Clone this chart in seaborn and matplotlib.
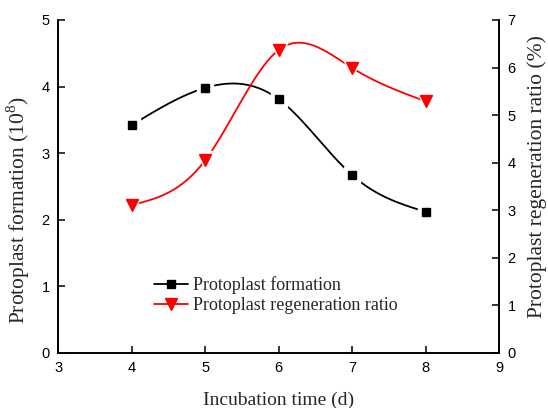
import numpy as np
import pandas as pd
import matplotlib
matplotlib.use("Agg")
import matplotlib.pyplot as plt
import seaborn as sns
from matplotlib.lines import Line2D

days = [4, 5, 6, 7, 8]
formation = [3.42, 3.98, 3.81, 2.67, 2.12]
regeneration = [3.11, 4.05, 6.37, 5.99, 5.29]

formation_label = "Protoplast formation"
regeneration_label = "Protoplast regeneration ratio"


def natural_spline(x, y, n=200):
    # natural cubic spline through the points, only for drawing the smooth curve
    x = np.asarray(x, float)
    y = np.asarray(y, float)
    k = len(x)
    h = np.diff(x)
    A = np.zeros((k, k))
    b = np.zeros(k)
    A[0, 0] = A[-1, -1] = 1.0
    for i in range(1, k - 1):
        A[i, i - 1] = h[i - 1]
        A[i, i] = 2 * (h[i - 1] + h[i])
        A[i, i + 1] = h[i]
        b[i] = 3 * ((y[i + 1] - y[i]) / h[i] - (y[i] - y[i - 1]) / h[i - 1])
    c = np.linalg.solve(A, b)
    xs = np.linspace(x[0], x[-1], n)
    ys = np.empty_like(xs)
    for j, xv in enumerate(xs):
        i = min(np.searchsorted(x, xv, side="right") - 1, k - 2)
        d = xv - x[i]
        bi = (y[i + 1] - y[i]) / h[i] - h[i] * (2 * c[i] + c[i + 1]) / 3
        di = (c[i + 1] - c[i]) / (3 * h[i])
        ys[j] = y[i] + bi * d + c[i] * d ** 2 + di * d ** 3
    return xs, ys


sns.set_theme(style="ticks")
plt.rcParams["font.family"] = ["Liberation Sans", "DejaVu Sans"]
plt.rcParams["xtick.direction"] = "in"
plt.rcParams["ytick.direction"] = "in"
plt.rcParams["mathtext.fontset"] = "custom"
plt.rcParams["mathtext.rm"] = "Liberation Serif"

fig = plt.figure(figsize=(5.48, 4.08), dpi=100)
ax = fig.add_axes([0.106, 0.135, 0.805, 0.816])
ax2 = ax.twinx()

fx, fy = natural_spline(days, formation)
rx, ry = natural_spline(days, regeneration)
curve_f = pd.DataFrame({"day": fx, "value": fy})
curve_r = pd.DataFrame({"day": rx, "value": ry})

sns.lineplot(data=curve_f, x="day", y="value", ax=ax, color="black", linewidth=1.3, legend=False)
sns.lineplot(data=curve_r, x="day", y="value", ax=ax2, color="red", linewidth=1.3, legend=False)

# white halo around markers so the line breaks near each point
ax.plot(days, formation, linestyle="none", marker="s", markersize=11, color="white", zorder=3)
ax.plot(days, formation, linestyle="none", marker="s", markersize=6, color="black", zorder=4)
ax2.plot(days, regeneration, linestyle="none", marker="v", markersize=13, color="white", zorder=3)
ax2.plot(days, regeneration, linestyle="none", marker="v", markersize=8, color="red", zorder=4)

ax.set_xlim(3, 9)
ax.set_ylim(0, 5)
ax2.set_ylim(0, 7)
ax.set_xticks(range(3, 10))
ax.set_yticks(range(0, 6))
ax2.set_yticks(range(0, 8))

serif = ["Liberation Serif", "DejaVu Serif"]
ax.set_xlabel("Incubation time (d)", fontsize=14, family=serif, labelpad=12)
ax.set_ylabel(r"Protoplast formation (10$^{8}$)", fontsize=15.5, family=serif)
ax2.set_ylabel("Protoplast regeneration ratio (%)", fontsize=15.5, family=serif)
ax.yaxis.set_label_coords(-0.059, 0.43)
ax2.yaxis.set_label_coords(1.063, 0.53)

for a in (ax, ax2):
    a.spines["top"].set_visible(False)
    for s in a.spines.values():
        s.set_linewidth(1.2)
        s.set_color("black")
    a.tick_params(labelsize=10.5, length=5, width=1.1, colors="black", direction="in")
ax.tick_params(axis="x", pad=6)
ax.tick_params(axis="y", pad=6)
ax2.tick_params(axis="y", pad=6)

handles = [
    Line2D([], [], color="black", marker="s", markersize=6, linewidth=1.3),
    Line2D([], [], color="red", marker="v", markersize=8, linewidth=1.3),
]
ax.legend(handles, [formation_label, regeneration_label], loc="upper left",
          bbox_to_anchor=(0.18, 0.28), frameon=False, handlelength=1.9,
          handletextpad=0.3, labelspacing=0.2, prop={"family": serif, "size": 13})

fig.savefig("out.png", dpi=100)
